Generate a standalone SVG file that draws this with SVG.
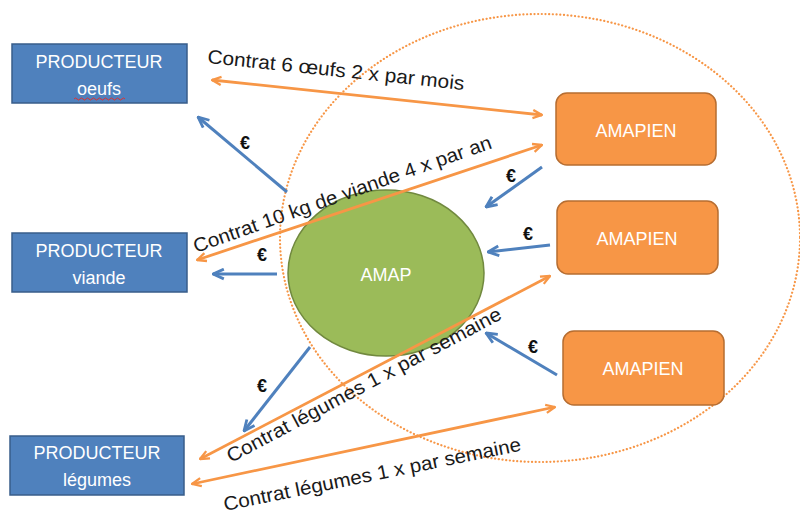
<svg xmlns="http://www.w3.org/2000/svg" width="800" height="514" viewBox="0 0 800 514">
<defs>
<style>
.prod{fill:#4f81bd;stroke:#385d8a;stroke-width:1.5}
.amap{fill:#f79646;stroke:#b66d31;stroke-width:1.5}
.bt{fill:#fff;font-family:"Liberation Sans",Arial,sans-serif;font-size:18px;text-anchor:middle}
.ct{fill:#1a1a1a;font-family:"Liberation Sans",Arial,sans-serif;font-size:19.5px}
.eu{fill:#111;font-family:"Liberation Sans",Arial,sans-serif;font-size:18px;font-weight:bold;text-anchor:middle}
.or{stroke:#f79646;stroke-width:2.8;fill:none;marker-start:url(#oa);marker-end:url(#oa)}
.bl{stroke:#4f81bd;stroke-width:3;fill:none;marker-end:url(#ba)}
</style>
<marker id="oa" viewBox="0 0 12 12" refX="11" refY="6" markerWidth="11" markerHeight="11" orient="auto-start-reverse" markerUnits="userSpaceOnUse">
<path d="M1,1.5 L11,6 L1,10.5" fill="none" stroke="#f79646" stroke-width="2.5" stroke-linejoin="round"/>
</marker>
<marker id="ba" viewBox="0 0 12 12" refX="11" refY="6" markerWidth="13" markerHeight="13" orient="auto" markerUnits="userSpaceOnUse">
<path d="M1,1.5 L11,6 L1,10.5" fill="none" stroke="#4f81bd" stroke-width="2.6" stroke-linejoin="round"/>
</marker>
</defs>
<rect width="800" height="514" fill="#fff"/>
<ellipse cx="540" cy="238" rx="260" ry="224" fill="none" stroke="#f79646" stroke-width="2.2" stroke-dasharray="0.1 3.6" stroke-linecap="round"/>
<g id="amap">
<ellipse cx="386" cy="273" rx="98" ry="83" fill="#9bbb59" stroke="#71893f" stroke-width="1.5"/>
<text class="bt" x="386" y="281" font-size="16">AMAP</text>
</g>
<g id="prod-oeufs">
<rect class="prod" x="12" y="44" width="175" height="59"/>
<text class="bt" x="99" y="68">PRODUCTEUR</text>
<text class="bt" x="99" y="95" font-size="19">oeufs</text>
<path d="M74,99 q1.5,-2 3,0 t3,0 t3,0 t3,0 t3,0 t3,0 t3,0 t3,0 t3,0 t3,0 t3,0 t3,0 t3,0 t3,0 t3,0 t3,0 t3,0" fill="none" stroke="#e03030" stroke-width="1"/>
</g>
<g id="prod-viande">
<rect class="prod" x="12" y="233" width="175" height="59"/>
<text class="bt" x="99" y="257">PRODUCTEUR</text>
<text class="bt" x="99" y="284" font-size="19">viande</text>
</g>
<g id="prod-legumes">
<rect class="prod" x="10" y="436" width="174" height="59"/>
<text class="bt" x="97" y="459">PRODUCTEUR</text>
<text class="bt" x="97" y="486" font-size="19">légumes</text>
</g>
<g id="amapien1">
<rect class="amap" x="556" y="93" width="160" height="72" rx="11"/>
<text class="bt" x="636" y="137">AMAPIEN</text>
</g>
<g id="amapien2">
<rect class="amap" x="557" y="201" width="161" height="73" rx="11"/>
<text class="bt" x="637" y="245">AMAPIEN</text>
</g>
<g id="amapien3">
<rect class="amap" x="563" y="331" width="161" height="74" rx="11"/>
<text class="bt" x="643" y="375">AMAPIEN</text>
</g>
<g id="connectors">
<line class="or" x1="212" y1="80" x2="542" y2="115"/>
<line class="or" x1="197" y1="260" x2="542" y2="145"/>
<line class="or" x1="200" y1="459" x2="550" y2="276"/>
<line class="or" x1="192" y1="484" x2="555" y2="407"/>
<line class="bl" x1="287" y1="192" x2="198" y2="117"/>
<line class="bl" x1="542" y1="167" x2="486" y2="207"/>
<line class="bl" x1="550" y1="245" x2="488" y2="252"/>
<line class="bl" x1="277" y1="274" x2="213" y2="274"/>
<line class="bl" x1="310" y1="347" x2="244" y2="431"/>
<line class="bl" x1="557" y1="375" x2="486" y2="333"/>
<text class="ct" transform="translate(207,63) rotate(6)" textLength="258" lengthAdjust="spacingAndGlyphs">Contrat 6 œufs 2 x par mois</text>
<text class="ct" transform="translate(196,253) rotate(-19.5)" textLength="315" lengthAdjust="spacingAndGlyphs">Contrat 10 kg de viande 4 x par an</text>
<text class="ct" transform="translate(231,463) rotate(-28)" textLength="308" lengthAdjust="spacingAndGlyphs">Contrat légumes 1 x par semaine</text>
<text class="ct" transform="translate(225,511) rotate(-11.5)" textLength="303" lengthAdjust="spacingAndGlyphs">Contrat légumes 1 x par semaine</text>
<text class="eu" x="245" y="149">€</text>
<text class="eu" x="511" y="182">€</text>
<text class="eu" x="528" y="240">€</text>
<text class="eu" x="262" y="261">€</text>
<text class="eu" x="262" y="392">€</text>
<text class="eu" x="533" y="353">€</text>
</g>
</svg>
